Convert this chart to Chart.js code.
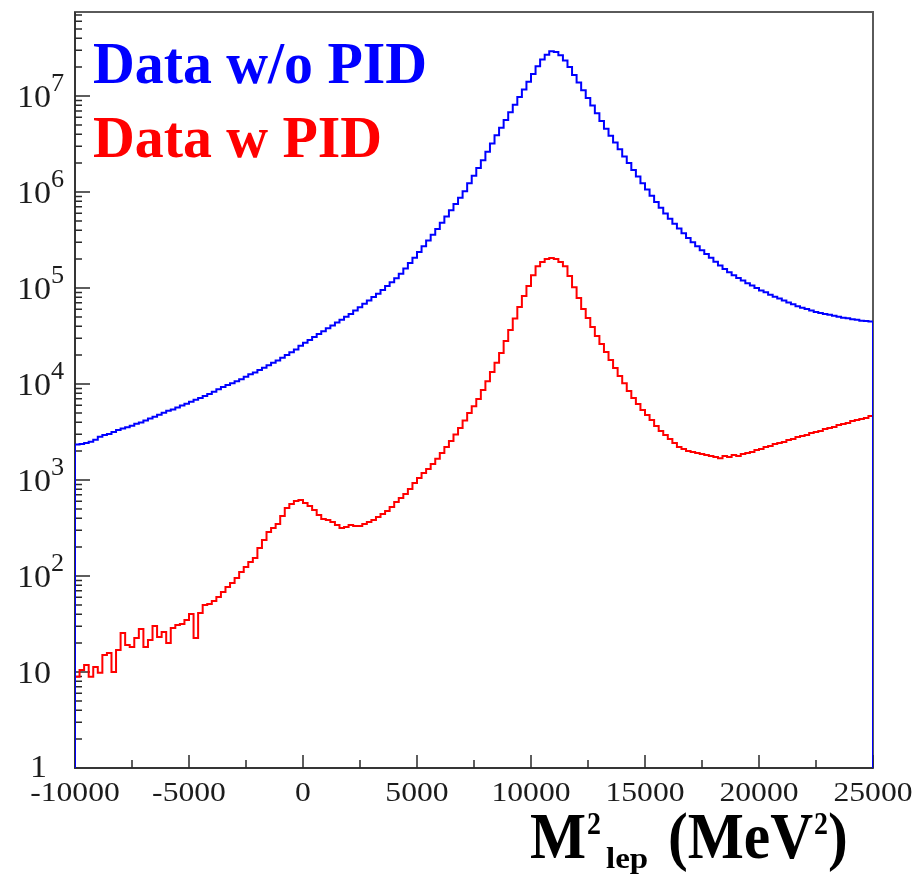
<!DOCTYPE html>
<html>
<head>
<meta charset="utf-8">
<script src="https://cdn.jsdelivr.net/npm/chart.js@4.4.1/dist/chart.umd.min.js"></script>
<style>
  html, body { margin: 0; padding: 0; background: #fff; }
  #wrap { width: 920px; height: 876px; }
</style>
</head>
<body>
<div id="wrap"><canvas id="hist"></canvas></div>
<script>
// M^2_lep spectrum with and without particle ID, 200 MeV^2 bins over [-10000, 25000]
const binLow = -10000;
const binWidth = 200;

const countsNoPid = [
  2340, 2370, 2430, 2510, 2630, 2820, 2950, 3020, 3160, 3310,
  3430, 3550, 3670, 3850, 3980, 4170, 4370, 4570, 4790, 5010,
  5250, 5430, 5690, 5960, 6240, 6530, 6840, 7160, 7500, 7850,
  8320, 8810, 9330, 9770, 10200, 10700, 11200, 11900, 12600, 13200,
  14000, 14800, 15700, 16600, 17600, 18800, 20000, 21400, 22900, 25100,
  26900, 28800, 30900, 33100, 35500, 38000, 40700, 43700, 46800, 50100,
  53700, 58200, 63100, 68400, 74100, 80400, 87100, 95500, 105000, 115000,
  126000, 141000, 160000, 182000, 207000, 237000, 272000, 313000, 359000, 412000,
  479000, 556000, 646000, 750000, 871000, 1020000, 1230000, 1480000, 1780000, 2140000,
  2630000, 3200000, 3890000, 4680000, 5620000, 6760000, 8130000, 9770000, 11700000, 14100000,
  17000000, 20400000, 24000000, 26900000, 29200000, 28800000, 26600000, 23400000, 20000000, 16600000,
  13800000, 11500000, 9550000, 7940000, 6610000, 5500000, 4570000, 3850000, 3270000, 2790000,
  2340000, 2000000, 1700000, 1450000, 1230000, 1060000, 912000, 785000, 684000, 596000,
  525000, 468000, 417000, 372000, 331000, 299000, 272000, 248000, 226000, 207000,
  188000, 172000, 158000, 146000, 136000, 127000, 120000, 112000, 106000, 100000,
  94400, 90200, 85100, 81300, 77600, 74100, 70800, 67600, 64600, 62400,
  60300, 58200, 56200, 55000, 53700, 52500, 51300, 50100, 49000, 48400,
  47300, 46800, 45700, 45200, 44700
];

const countsPid = [
  8.9, 10.5, 11.8, 8.9, 11.3, 9.8, 15.0, 15.8, 10, 16.9,
  25.5, 19.1, 18.2, 22.6, 28.0, 18.2, 21.5, 30.1, 23.2, 26.1,
  20.0, 28.7, 30.9, 31.6, 34.8, 40.2, 22.6, 41.2, 49.9, 51.1,
  54.9, 60.4, 68.1, 76.8, 84.5, 95.3, 110, 124, 140, 154,
  196, 237, 287, 316, 348, 422, 511, 562, 604, 619,
  576, 536, 487, 432, 392, 383, 365, 340, 316, 324,
  340, 332, 332, 348, 365, 383, 412, 442, 475, 523,
  590, 649, 715, 805, 931, 1050, 1180, 1300, 1470, 1660,
  1910, 2210, 2550, 2980, 3480, 4170, 4990, 5850, 6980, 8660,
  10700, 13300, 16600, 21000, 28100, 36500, 48100, 63400, 82500, 105000,
  136000, 169000, 187000, 200000, 205000, 200000, 187000, 169000, 133000, 102000,
  78700, 60400, 48700, 39200, 31600, 26100, 21500, 17800, 14700, 12100,
  10200, 8450, 7150, 6190, 5360, 4750, 4220, 3650, 3240, 2940,
  2670, 2430, 2210, 2100, 2000, 1960, 1910, 1870, 1820, 1780,
  1740, 1690, 1780, 1740, 1820, 1780, 1870, 1910, 1960, 2050,
  2100, 2210, 2260, 2370, 2430, 2490, 2610, 2670, 2800, 2870,
  2940, 3090, 3160, 3240, 3400, 3480, 3560, 3740, 3830, 3920,
  4120, 4220, 4320, 4420, 4640
];

const xLabelValues = [-10000, -5000, 0, 5000, 10000, 15000, 20000, 25000];
const xMinorValues = [-7500, -2500, 2500, 7500, 12500, 17500, 22500];
const yDecades = [0, 1, 2, 3, 4, 5, 6, 7];
const yMin = 1;
const yMax = 7.5e7;

const SERIF = "'Liberation Serif', 'Times New Roman', serif";

// histogram outline: starts and ends on the axis floor like a ROOT "HIST" draw
function histPoints(counts) {
  const pts = [{ x: binLow, y: yMin }];
  counts.forEach((c, i) => pts.push({ x: binLow + i * binWidth, y: c }));
  const hi = binLow + counts.length * binWidth;
  pts.push({ x: hi, y: counts[counts.length - 1] });
  pts.push({ x: hi, y: yMin });
  return pts;
}

// fillText with a horizontal stretch factor
function drawText(ctx, text, x, y, font, sx, align) {
  ctx.save();
  ctx.font = font;
  const w = ctx.measureText(text).width * sx;
  let left = x;
  if (align === 'center') left = x - w / 2;
  else if (align === 'right') left = x - w;
  ctx.translate(left, y);
  ctx.scale(sx, 1);
  ctx.textAlign = 'left';
  ctx.textBaseline = 'alphabetic';
  ctx.fillText(text, 0, 0);
  ctx.restore();
  return w;
}

const framePlugin = {
  id: 'frame',
  beforeDatasetsDraw(chart) {
    const { ctx, chartArea: a, scales: { x, y } } = chart;
    ctx.save();
    ctx.strokeStyle = '#5a5a5a';
    ctx.lineWidth = 2;
    ctx.strokeRect(a.left, a.top, a.right - a.left, a.bottom - a.top);

    ctx.strokeStyle = '#2a2a2a';
    ctx.lineWidth = 1.5;
    ctx.beginPath();
    ctx.moveTo(a.left, a.top);
    ctx.lineTo(a.left, a.bottom);
    ctx.lineTo(a.right, a.bottom);
    xLabelValues.forEach(v => {
      const px = x.getPixelForValue(v);
      ctx.moveTo(px, a.bottom);
      ctx.lineTo(px, a.bottom - 13);
    });
    xMinorValues.forEach(v => {
      const px = x.getPixelForValue(v);
      ctx.moveTo(px, a.bottom);
      ctx.lineTo(px, a.bottom - 8);
    });
    yDecades.forEach(d => {
      const base = Math.pow(10, d);
      const py = y.getPixelForValue(base);
      ctx.moveTo(a.left, py);
      ctx.lineTo(a.left + 15, py);
      for (let m = 2; m <= 9; m++) {
        if (m * base > yMax) break;
        const pm = y.getPixelForValue(m * base);
        ctx.moveTo(a.left, pm);
        ctx.lineTo(a.left + 7, pm);
      }
    });
    ctx.stroke();
    ctx.restore();
  }
};

const textPlugin = {
  id: 'texts',
  afterDraw(chart) {
    const { ctx, chartArea: a, scales: { x, y } } = chart;
    ctx.save();

    // x tick labels
    ctx.fillStyle = '#1c1c1c';
    xLabelValues.forEach(v => {
      drawText(ctx, String(v), x.getPixelForValue(v), a.bottom + 33, '28px ' + SERIF, 1.13, 'center');
    });

    // y tick labels: 1, 10, then 10^n
    yDecades.forEach(d => {
      const py = y.getPixelForValue(Math.pow(10, d));
      const base = py + 10.5;
      if (d === 0) {
        drawText(ctx, '1', a.left - 28, base - 2, '31px ' + SERIF, 1.1, 'right');
      } else {
        drawText(ctx, '10', a.left - 24, base, '31px ' + SERIF, 1.1, 'right');
        if (d > 1) {
          drawText(ctx, String(d), a.left - 24, base - 16, '25px ' + SERIF, 1.05, 'left');
        }
      }
    });

    // legend
    const legendFont = 'bold 59px ' + SERIF;
    ctx.fillStyle = '#0000ff';
    drawText(ctx, 'Data w/o PID', a.left + 18, 83, legendFont, 0.98, 'left');
    ctx.fillStyle = '#ff0000';
    drawText(ctx, 'Data w PID', a.left + 18, 157, legendFont, 0.98, 'left');

    // axis title  M^2_lep (MeV^2)
    ctx.fillStyle = '#000';
    const big = 'bold 66px ' + SERIF;
    const sup = 'bold 31px ' + SERIF;
    let cx = 530;
    cx += drawText(ctx, 'M', cx, 858, big, 0.9, 'left');
    drawText(ctx, '2', cx + 1, 834, sup, 0.9, 'left');
    drawText(ctx, 'lep', 606, 868, 'bold 30px ' + SERIF, 1.1, 'left');
    cx = 668;
    cx += drawText(ctx, '(MeV', cx, 858, big, 0.9, 'left');
    cx += drawText(ctx, '2', cx + 1, 834, sup, 0.9, 'left') + 1;
    drawText(ctx, ')', cx, 858, big, 0.9, 'left');

    ctx.restore();
  }
};

new Chart(document.getElementById('hist'), {
  type: 'line',
  data: {
    datasets: [
      {
        label: 'Data w/o PID',
        data: histPoints(countsNoPid),
        borderColor: '#0000ff',
        borderWidth: 2,
        stepped: 'before',
        pointRadius: 0,
        fill: false
      },
      {
        label: 'Data w PID',
        data: histPoints(countsPid),
        borderColor: '#ff0000',
        borderWidth: 2,
        stepped: 'before',
        pointRadius: 0,
        fill: false
      }
    ]
  },
  options: {
    responsive: true,
    maintainAspectRatio: false,
    animation: false,
    layout: { padding: { left: 75, right: 47, top: 12, bottom: 108 } },
    plugins: {
      legend: { display: false },
      tooltip: { enabled: false }
    },
    scales: {
      x: { type: 'linear', min: -10000, max: 25000, display: false },
      y: { type: 'logarithmic', min: yMin, max: yMax, display: false }
    }
  },
  plugins: [framePlugin, textPlugin]
});
</script>
</body>
</html>
